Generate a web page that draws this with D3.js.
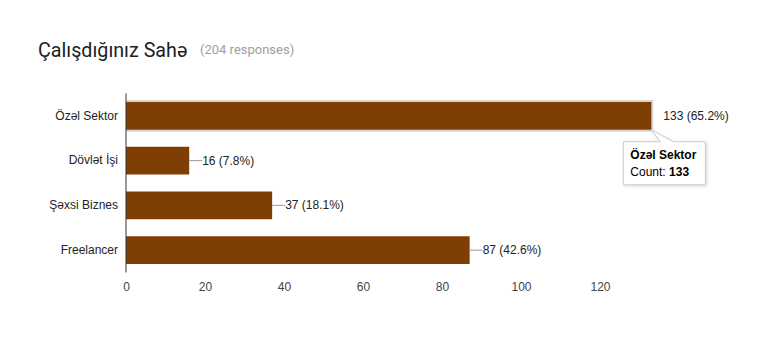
<!DOCTYPE html>
<html>
<head>
<meta charset="utf-8">
<script src="https://cdn.jsdelivr.net/npm/d3@7"></script>
<style>
  body { margin: 0; background: #fff; }
  svg { display: block; }
</style>
</head>
<body>
<script>
// data
const categories = ["Özəl Sektor", "Dövlət İşi", "Şəxsi Biznes", "Freelancer"];
const counts = [133, 16, 37, 87];
const percents = ["65.2%", "7.8%", "18.1%", "42.6%"];
const xTicks = [0, 20, 40, 60, 80, 100, 120];
const title = "Çalışdığınız Sahə";
const subtitle = "(204 responses)";
const hovered = 0; // index of the bar with the tooltip

const width = 766, height = 344;
const barColor = "#7f3f04";

const svg = d3.select("body").append("svg")
  .attr("width", width)
  .attr("height", height);

const x = d3.scaleLinear().domain([0, 140]).range([126, 679]);
const y = d3.scaleBand().domain(categories).range([93.5, 272.5]).paddingInner(0.38).paddingOuter(0.19);

// title
svg.append("text")
  .attr("x", 38).attr("y", 57)
  .attr("font-family", "Roboto, sans-serif")
  .attr("font-size", 19.7)
  .attr("fill", "#212121")
  .text(title);
svg.append("text")
  .attr("x", 200).attr("y", 54)
  .attr("font-family", "Roboto, sans-serif")
  .attr("font-size", 13)
  .attr("fill", "#9e9e9e")
  .text(subtitle);

const rows = categories.map((c, i) => ({ cat: c, n: counts[i], pct: percents[i], i }));

// highlight behind hovered bar
const hv = rows[hovered];
svg.append("rect")
  .attr("x", x(0))
  .attr("y", y(hv.cat) - 2)
  .attr("width", x(hv.n) - x(0) + 2)
  .attr("height", y.bandwidth() + 4)
  .attr("fill", "#d6d6d6");

// bars
svg.append("g")
  .selectAll("rect")
  .data(rows)
  .join("rect")
  .attr("x", x(0))
  .attr("y", d => y(d.cat))
  .attr("width", d => x(d.n) - x(0))
  .attr("height", y.bandwidth())
  .attr("fill", barColor);

// leader lines + labels
const lab = svg.append("g");
lab.selectAll("line")
  .data(rows.filter(d => d.i !== hovered))
  .join("line")
  .attr("x1", d => x(d.n))
  .attr("x2", d => x(d.n) + 13)
  .attr("y1", d => y(d.cat) + y.bandwidth() / 2)
  .attr("y2", d => y(d.cat) + y.bandwidth() / 2)
  .attr("stroke", "#999")
  .attr("stroke-width", 1);
lab.selectAll("text")
  .data(rows)
  .join("text")
  .attr("x", d => x(d.n) + (d.i === hovered ? 12 : 13))
  .attr("y", d => y(d.cat) + y.bandwidth() / 2 + 4)
  .attr("font-family", "Arial, 'Liberation Sans', sans-serif")
  .attr("font-size", 12)
  .attr("fill", "#222")
  .text(d => `${d.n} (${d.pct})`);

// y axis
const yAxis = svg.append("g")
  .attr("transform", `translate(${x(0)},0)`)
  .call(d3.axisLeft(y).tickSize(0).tickPadding(8));
yAxis.select(".domain").attr("stroke", "#333").attr("d", `M0,${y.range()[0]}V${y.range()[1]}`);
yAxis.selectAll("text")
  .attr("font-family", "Arial, 'Liberation Sans', sans-serif")
  .attr("font-size", 12)
  .attr("fill", "#222");

// x axis
const xAxis = svg.append("g")
  .attr("transform", `translate(0,${y.range()[1]})`)
  .call(d3.axisBottom(x).tickValues(xTicks).tickSize(0).tickPadding(10));
xAxis.select(".domain").remove();
xAxis.selectAll("text")
  .attr("font-family", "Arial, 'Liberation Sans', sans-serif")
  .attr("font-size", 12)
  .attr("fill", "#444");

// tooltip
const tipX = x(hv.n) - 28, tipY = y(hv.cat) + y.bandwidth() + 12;
const tipW = 82, tipH = 43;
const defs = svg.append("defs");
const f = defs.append("filter").attr("id", "sh").attr("x", "-20%").attr("y", "-20%").attr("width", "150%").attr("height", "150%");
f.append("feDropShadow").attr("dx", 1).attr("dy", 1).attr("stdDeviation", 1.5).attr("flood-color", "#000").attr("flood-opacity", 0.18);
const tip = svg.append("g");
const tipPath = d3.path();
tipPath.moveTo(tipX, tipY);
tipPath.lineTo(tipX + 37, tipY);
tipPath.lineTo(x(hv.n), y(hv.cat) + y.bandwidth());
tipPath.lineTo(tipX + 50, tipY);
tipPath.lineTo(tipX + tipW, tipY);
tipPath.lineTo(tipX + tipW, tipY + tipH);
tipPath.lineTo(tipX, tipY + tipH);
tipPath.closePath();
tip.append("path")
  .attr("d", tipPath.toString())
  .attr("fill", "#fff")
  .attr("stroke", "#ccc")
  .attr("stroke-width", 1)
  .attr("filter", "url(#sh)");
tip.append("text")
  .attr("x", tipX + 7).attr("y", tipY + 17)
  .attr("font-family", "Arial, 'Liberation Sans', sans-serif")
  .attr("font-size", 12)
  .attr("font-weight", "bold")
  .attr("fill", "#000")
  .text(hv.cat);
const t2 = tip.append("text")
  .attr("x", tipX + 7).attr("y", tipY + 34)
  .attr("font-family", "Arial, 'Liberation Sans', sans-serif")
  .attr("font-size", 12)
  .attr("fill", "#000");
t2.append("tspan").text("Count: ");
t2.append("tspan").attr("font-weight", "bold").text(hv.n);
</script>
</body>
</html>
